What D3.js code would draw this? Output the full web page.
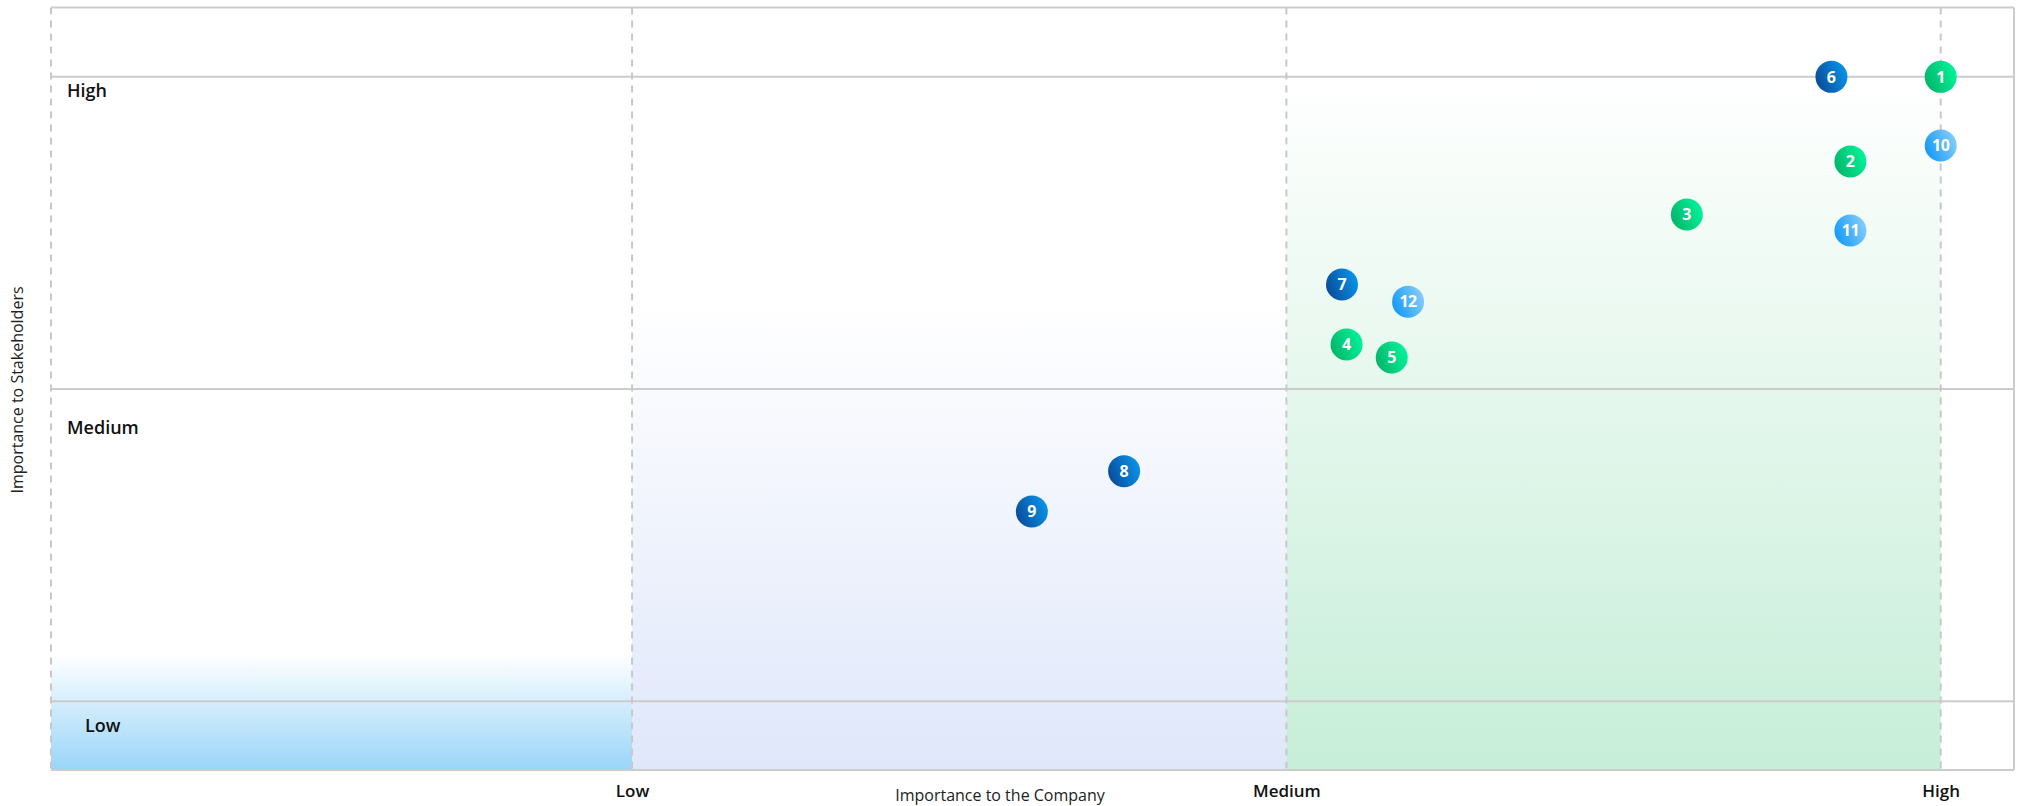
<!DOCTYPE html>
<html>
<head>
<meta charset="utf-8">
<script src="https://cdn.jsdelivr.net/npm/d3@7"></script>
<style>
  html, body { margin: 0; padding: 0; background: #ffffff; }
  svg { display: block; }
</style>
</head>
<body>
<svg id="chart" width="2018" height="806"></svg>
<script>
// ---------- data ----------
const levelLabels = ["Low", "Medium", "High"];
const levelValues = [1, 2, 3];
const pointIds    = [1, 2, 3, 4, 5, 6, 7, 8, 9, 10, 11, 12];
const companyImp  = [3.0, 2.862, 2.612, 2.092, 2.161, 2.833, 2.085, 1.752, 1.611, 3.0, 2.862, 2.186];
const stakeImp    = [3.0, 2.729, 2.559, 2.143, 2.101, 3.0, 2.335, 1.737, 1.608, 2.78, 2.508, 2.28];
const pointGroup  = ["green", "green", "green", "green", "green", "navy", "navy", "navy", "navy", "sky", "sky", "sky"];
const xTitle = "Importance to the Company";
const yTitle = "Importance to Stakeholders";

// ---------- scales ----------
const svg = d3.select("#chart");
const x = d3.scaleLinear().domain([0.112, 3.112]).range([51, 2014]);
const y = d3.scaleLinear().domain([0.78, 3.222]).range([770, 7.5]);

const defs = svg.append("defs");
function vGrad(id, stops) {
  const g = defs.append("linearGradient").attr("id", id)
    .attr("x1", 0).attr("y1", 0).attr("x2", 0).attr("y2", 1);
  stops.forEach(s => g.append("stop").attr("offset", s[0]).attr("stop-color", s[1]).attr("stop-opacity", s[2]));
}
vGrad("bandLow",  [[0, "#98d5f8", 0], [1, "#98d5f8", 1]]);
vGrad("bandMed",  [[0, "#dfe7fa", 0], [1, "#dfe7fa", 1]]);
vGrad("bandHigh", [[0, "#c6eed8", 0], [1, "#c6eed8", 1]]);

function mGrad(id, c0, c1) {
  const g = defs.append("linearGradient").attr("id", id)
    .attr("x1", 0).attr("y1", 0.7).attr("x2", 1).attr("y2", 0.3);
  g.append("stop").attr("offset", 0).attr("stop-color", c0);
  g.append("stop").attr("offset", 1).attr("stop-color", c1);
}
mGrad("m-green", "#05b468", "#00f59c");
mGrad("m-navy",  "#0a4a98", "#0896ec");
mGrad("m-sky",   "#1198f6", "#86cffc");

// ---------- background bands (x bands fading in from a top y value) ----------
const bandFrom = [[x.domain()[0], 1], [1, 2], [2, 3]];
const bandTop  = [1.15, 2.28, 3.0];
const bandFill = ["url(#bandLow)", "url(#bandMed)", "url(#bandHigh)"];
svg.append("g").selectAll("rect").data(bandFrom).join("rect")
  .attr("x", d => x(d[0]))
  .attr("width", d => x(d[1]) - x(d[0]))
  .attr("y", (d, i) => y(bandTop[i]))
  .attr("height", (d, i) => y(y.domain()[0]) - y(bandTop[i]))
  .attr("fill", (d, i) => bandFill[i]);

// ---------- grid ----------
const grid = svg.append("g");
const hLines = [y.domain()[0], ...levelValues, y.domain()[1]];
grid.selectAll("line.h").data(hLines).join("line")
  .attr("class", "h")
  .attr("x1", x.range()[0]).attr("x2", x.range()[1])
  .attr("y1", d => y(d)).attr("y2", d => y(d))
  .attr("stroke", "#cccccc").attr("stroke-width", 2);

const vLines = [x.domain()[0], ...levelValues];
grid.selectAll("line.v").data(vLines).join("line")
  .attr("class", "v")
  .attr("x1", d => x(d)).attr("x2", d => x(d))
  .attr("y1", y.range()[1]).attr("y2", y.range()[0])
  .attr("stroke", "#c8c8c8").attr("stroke-width", 2)
  .attr("stroke-dasharray", "7,6");

grid.append("line")
  .attr("x1", x.range()[1]).attr("x2", x.range()[1])
  .attr("y1", y.range()[1]).attr("y2", y.range()[0])
  .attr("stroke", "#cccccc").attr("stroke-width", 2);

// ---------- x axis ----------
const xAxis = d3.axisBottom(x).tickValues(levelValues)
  .tickFormat((d, i) => levelLabels[i]).tickSize(0).tickPadding(0);
const xg = svg.append("g").attr("transform", `translate(0, ${y.range()[0]})`).call(xAxis);
xg.select(".domain").remove();
xg.selectAll("text")
  .attr("y", 21).attr("dy", "0.35em")
  .attr("font-family", "'Open Sans', sans-serif")
  .attr("font-size", 17).attr("font-weight", 600).attr("fill", "#111111");

svg.append("text")
  .attr("x", 1000).attr("y", 795).attr("dy", "0.35em")
  .attr("text-anchor", "middle")
  .attr("font-family", "'Open Sans', sans-serif")
  .attr("font-size", 16).attr("fill", "#222222")
  .text(xTitle);

// ---------- y labels (inside plot) ----------
const yLabelDX = [85, 67, 67];
const yLabelDY = [24, 39, 14];
svg.append("g").selectAll("text").data(levelValues).join("text")
  .attr("x", (d, i) => yLabelDX[i])
  .attr("y", (d, i) => y(d) + yLabelDY[i])
  .attr("dy", "0.35em")
  .attr("font-family", "'Open Sans', sans-serif")
  .attr("font-size", 18).attr("font-weight", 600).attr("fill", "#111111")
  .text((d, i) => levelLabels[i]);

svg.append("text")
  .attr("transform", "translate(17, 390) rotate(-90)")
  .attr("dy", "0.35em")
  .attr("text-anchor", "middle")
  .attr("font-family", "'Open Sans', sans-serif")
  .attr("font-size", 16).attr("fill", "#222222")
  .text(yTitle);

// ---------- points ----------
const pts = pointIds.map((id, i) => ({ id, cx: companyImp[i], cy: stakeImp[i], g: pointGroup[i] }));
const pg = svg.append("g").selectAll("g").data(pts).join("g")
  .attr("transform", d => `translate(${x(d.cx)}, ${y(d.cy)})`);
pg.append("circle").attr("r", 16).attr("fill", d => `url(#m-${d.g})`);
pg.append("text")
  .attr("text-anchor", "middle").attr("dy", "0.36em")
  .attr("font-family", "'Open Sans', sans-serif")
  .attr("font-size", 16).attr("font-weight", 700).attr("fill", "#ffffff")
  .attr("letter-spacing", d => d.id >= 10 ? "-0.5" : "0")
  .text(d => d.id);
</script>
</body>
</html>
